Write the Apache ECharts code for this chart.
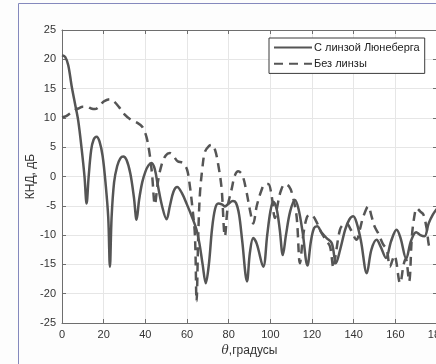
<!DOCTYPE html>
<html><head><meta charset="utf-8">
<script src="https://cdn.jsdelivr.net/npm/echarts@6/dist/echarts.min.js"></script>
<style>html,body{margin:0;padding:0;background:#fdfdfd}#c{width:436px;height:364px}</style>
</head><body><div id="c"></div>
<script>
const seriesNames = ['С линзой Люнеберга', 'Без линзы'];
const xTicks = [0,20,40,60,80,100,120,140,160,180];
const yTicks = [-25,-20,-15,-10,-5,0,5,10,15,20,25];

// With Luneberg lens: [theta, dB]
const lensTheta = [0,1.5,3,4.6,6.2,7.8,9.5,10.8,11.8,12.8,14,15.2,16.6,18,19.5,21,22.2,23,23.8,25,26.5,28,29.4,31,32.8,34.5,35.8,37,38.5,40,41.5,43,44.5,46,48,50.2,51.8,53.5,55.3,57.5,60,62.5,64.5,66,67.5,69,70.5,72,73.5,75,77,78.2,80,82,83.5,85,86.5,88.8,90.2,91.8,93.5,96.6,98.5,100,101.4,103,104.5,106,107.5,109.5,111.8,113.5,115.5,117.8,119.5,121,122.5,124.5,127,129.5,131.5,133.5,136,138,139.8,141.5,143.5,146.3,148.5,151,153,155.5,158,160.6,162.5,165.2,167.5,170,172,174,176,178,180];
const lensDb = [20.7,20.4,19.0,15.5,12.5,9.5,4.5,0,-4.6,0,4.5,6.3,6.8,6.0,3.5,-1.5,-7,-15.4,-7,-1,1.8,3.1,3.4,2.8,0.5,-3.5,-7.4,-4,-1,0.8,1.9,2.3,1.3,-1.5,-5,-7.3,-5,-2.6,-1.8,-2.8,-4.8,-7,-9,-11.5,-15,-18.2,-15,-9,-5.5,-4.6,-4.8,-5.1,-4.6,-4.2,-4.5,-6.5,-11,-17.9,-13,-10.5,-11.5,-15.4,-10,-6,-4.3,-5.5,-9,-13.4,-10,-6,-4.0,-5.5,-9.5,-15.2,-11,-8.8,-8.5,-9.5,-10.5,-11.4,-14.8,-12.5,-9,-7.3,-6.8,-8,-11,-16.5,-12.5,-10.8,-12,-13.9,-11,-9.1,-10.5,-14,-11,-9.5,-10,-10.2,-8,-6.5,-5.5];

// Without lens: [theta, dB]
const noLensTheta = [0,2,4,6,7.8,10,12,14,15.8,18,20,23,25,27.5,30,33,36,38.5,40.5,42,43.2,44.6,46,47.8,49.8,51.8,53.5,55.5,58,60,61.4,62.5,63.8,64.6,65.4,66.2,67.4,68.6,70.5,72,73.5,75,76.6,78.2,79.6,81.4,83,84.6,86.5,88.5,90.2,91.8,93.5,95.8,97.5,99,100.5,102.2,103.5,105,107,109,110.5,112.6,114.2,115.8,117.5,119,120.6,122.5,124.5,127,128.7,130.3,131.5,133.4,135,136.7,138.5,141.4,143,144.5,147,148.6,150,151.8,154,155.9,157.4,159.5,162.3,164,165,166.6,168,169.5,170.3,172,173.5,175,176.6,178];
const noLensDb = [10.1,10.3,10.8,11.3,11.6,11.9,11.9,11.6,11.5,12.0,12.8,13.2,12.8,11.8,10.6,9.7,9.2,8.5,6.8,4,0.5,-4.8,-1,2,3.6,4.0,3.5,2.6,2.3,1.2,-1.7,-5,-10,-21.3,-10,-3,1.5,4.2,5.2,5.4,4.5,2,-2,-10.2,-5,-2.2,0.2,0.9,0.3,-2.5,-5.7,-8.0,-5,-2.3,-1.3,-1.3,-3,-7.1,-4.8,-2.5,-1.3,-1.7,-3,-6.8,-14.8,-10,-7,-6.5,-6.8,-8,-9.6,-11,-12,-15.6,-13,-9.1,-8.2,-8,-9,-10.8,-9,-7,-5.1,-6.8,-8.5,-9.7,-11.5,-12.5,-15.4,-13.5,-18.2,-15,-14,-17.9,-10,-6,-5.4,-6,-6.5,-8.8,-12,-11.7];

const zip = (a, b) => a.map((v, i) => [v, b[i]]);
const lineColor = '#555555';
const axisColor = '#6e6e6e';
const labelColor = '#333333';
const font = 'Liberation Sans, Arial, sans-serif';

const chart = echarts.init(document.getElementById('c'), null, {renderer: 'canvas'});
const xBase = {
  type: 'value', min: xTicks[0], max: xTicks[xTicks.length-1], interval: 20,
  axisLine: {show: true, onZero: false, lineStyle: {color: axisColor, width: 1}},
  axisTick: {show: true, inside: true, length: 4, lineStyle: {color: axisColor}},
  splitLine: {show: false}
};
const yBase = {
  type: 'value', min: yTicks[0], max: yTicks[yTicks.length-1], interval: 5,
  axisLine: {show: true, onZero: false, lineStyle: {color: axisColor, width: 1}},
  axisTick: {show: true, inside: true, length: 4, lineStyle: {color: axisColor}},
  splitLine: {show: false}
};
chart.setOption({
  backgroundColor: '#fdfdfd',
  animation: false,
  grid: {left: 62, top: 30, width: 375, height: 293, outerBoundsMode: 'none', containLabel: false,
         show: true, backgroundColor: '#ffffff', borderWidth: 0},
  graphic: [{
    type: 'polyline', silent: true, z: 100,
    shape: {points: [[18.5, 364], [18.5, 3.5], [436, 3.5]]},
    style: {stroke: '#8589bd', lineWidth: 1, fill: null}
  }],
  legend: {
    orient: 'vertical', left: 269, top: 38,
    backgroundColor: '#ffffff', borderColor: '#3a3a3a', borderWidth: 1,
    padding: [4, 5, 4, 4], itemGap: 5, itemWidth: 38, itemHeight: 14,
    itemStyle: {opacity: 0},
    textStyle: {fontFamily: font, fontSize: 11, color: '#222', padding: [0,0,0,-3]},
    data: seriesNames
  },
  xAxis: [
    Object.assign({}, xBase, {
      position: 'bottom',
      name: '{i|θ},градусы', nameLocation: 'middle', nameGap: 22, nameMoveOverlap: false,
      nameTextStyle: {fontFamily: font, fontSize: 12, color: labelColor,
        rich: {i: {fontStyle: 'italic', fontFamily: 'DejaVu Serif, serif', fontSize: 12, color: labelColor}}},
      axisLabel: {show: true, fontFamily: font, fontSize: 11, color: labelColor, margin: 6},
      splitLine: {show: true, lineStyle: {color: '#e6e6e6', width: 1}}
    }),
    Object.assign({}, xBase, {position: 'top', axisLabel: {show: false}})
  ],
  yAxis: [
    Object.assign({}, yBase, {
      position: 'left',
      name: 'КНД, дБ', nameLocation: 'middle', nameGap: 25, nameMoveOverlap: false,
      nameTextStyle: {fontFamily: font, fontSize: 12, color: labelColor},
      axisLabel: {show: true, fontFamily: font, fontSize: 11, color: labelColor, margin: 6},
      splitLine: {show: true, lineStyle: {color: '#e6e6e6', width: 1}}
    }),
    Object.assign({}, yBase, {position: 'right', axisLabel: {show: false}})
  ],
  series: [
    {name: seriesNames[0], type: 'line', data: zip(lensTheta, lensDb), showSymbol: false, symbol: 'none',
     smooth: 0.35, lineStyle: {color: lineColor, width: 2.5}, itemStyle: {color: lineColor}},
    {name: seriesNames[1], type: 'line', data: zip(noLensTheta, noLensDb), showSymbol: false, symbol: 'none',
     smooth: 0.35, lineStyle: {color: lineColor, width: 2.5, type: [9, 6]}, itemStyle: {color: lineColor}}
  ]
});
</script></body></html>
